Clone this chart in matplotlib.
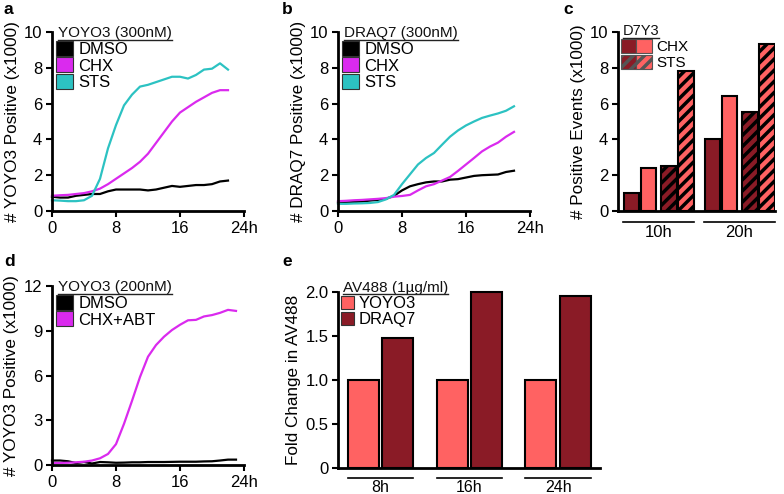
import matplotlib
matplotlib.use("Agg")
import matplotlib.pyplot as plt
from matplotlib.patches import Patch
from matplotlib.legend_handler import HandlerTuple
from matplotlib.lines import Line2D

plt.rcParams['font.family'] = ['Liberation Sans', 'DejaVu Sans']
plt.rcParams['hatch.linewidth'] = 2.5

# ---------------- data ----------------
hours_ab = list(range(0, 23))
a_dmso = [0.8, 0.75, 0.75, 0.85, 0.9, 0.95, 0.95, 1.1, 1.2, 1.2, 1.2, 1.2, 1.15, 1.2, 1.3, 1.4, 1.35, 1.4, 1.45, 1.45, 1.5, 1.65, 1.7]
a_chx = [0.85, 0.88, 0.9, 0.95, 1.0, 1.1, 1.25, 1.5, 1.8, 2.1, 2.4, 2.75, 3.2, 3.8, 4.4, 5.0, 5.5, 5.8, 6.1, 6.35, 6.6, 6.75, 6.75]
a_sts = [0.6, 0.58, 0.55, 0.55, 0.6, 0.85, 1.8, 3.5, 4.8, 5.9, 6.5, 6.95, 7.05, 7.2, 7.35, 7.5, 7.5, 7.4, 7.6, 7.9, 7.95, 8.25, 7.9]

b_dmso = [0.47, 0.48, 0.5, 0.53, 0.58, 0.62, 0.68, 0.85, 1.15, 1.38, 1.5, 1.6, 1.65, 1.65, 1.75, 1.78, 1.87, 1.96, 2.0, 2.02, 2.04, 2.18, 2.25]
b_chx = [0.55, 0.57, 0.6, 0.62, 0.65, 0.68, 0.72, 0.8, 0.84, 0.9, 1.15, 1.38, 1.5, 1.7, 1.9, 2.24, 2.6, 2.96, 3.33, 3.6, 3.82, 4.15, 4.42]
b_sts = [0.4, 0.4, 0.42, 0.43, 0.45, 0.5, 0.65, 0.9, 1.5, 2.05, 2.6, 2.96, 3.24, 3.7, 4.15, 4.5, 4.78, 5.0, 5.2, 5.33, 5.45, 5.6, 5.85]

hours_d = list(range(0, 24))
d_dmso = [0.3, 0.3, 0.25, 0.13, 0.2, 0.1, 0.2, 0.18, 0.15, 0.16, 0.18, 0.18, 0.2, 0.2, 0.2, 0.21, 0.22, 0.22, 0.22, 0.24, 0.25, 0.3, 0.36, 0.36]
d_chxabt = [0.13, 0.14, 0.15, 0.18, 0.22, 0.3, 0.45, 0.74, 1.4, 2.76, 4.3, 5.9, 7.26, 8.04, 8.6, 9.05, 9.4, 9.7, 9.73, 9.96, 10.05, 10.2, 10.4, 10.33]

c_groups = ['10h', '20h']
c_d7_chx = [1.0, 4.0]
c_y3_chx = [2.4, 6.4]
c_d7_sts = [2.5, 5.55]
c_y3_sts = [7.8, 9.35]

e_groups = ['8h', '16h', '24h']
e_yoyo3 = [1.0, 1.0, 1.0]
e_draq7 = [1.48, 2.0, 1.95]

time_ticks = [0, 8, 16, 24]
time_labels = ['0', '8', '16', '24h']

# ---------------- style ----------------
C_BLACK = '#000000'
C_MAG = '#DA2AEE'
C_CYAN = '#2CC2C2'
C_LIGHT = '#FF6262'
C_DARK = '#8A1B26'
FS_TICK = 12
FS_LAB = 12.3
FS_LEG = 12

W, H = 784, 494
fig = plt.figure(figsize=(W / 100, H / 100), dpi=100)


def rect(l, t, r, b):
    return [l / W, (H - b) / H, (r - l) / W, (b - t) / H]


def style_axes(ax):
    for s in ('top', 'right'):
        ax.spines[s].set_visible(False)
    for s in ('left', 'bottom'):
        ax.spines[s].set_linewidth(2)
    ax.tick_params(direction='out', length=4, width=1.5, labelsize=FS_TICK, pad=3)


underlines = []


def legend_block(ax, title, handles, labels, tx, ty, fs=FS_LEG, hl=1.05, hh=1.0, hmap=None, tfs=None):
    t = ax.text(tx, ty, title, transform=ax.transAxes, fontsize=(tfs or fs - 1), ha='left', va='bottom', color='#111')
    underlines.append((ax, t))
    leg = ax.legend(handles, labels, loc='upper left', bbox_to_anchor=(tx - 0.01, ty - 0.005),
                    frameon=False, fontsize=fs, handlelength=hl, handleheight=hh,
                    handletextpad=0.3, labelspacing=0.02, borderpad=0, borderaxespad=0,
                    handler_map=hmap)
    return leg


def line_panel(ax, hours, series, colors, ylim, yticks, ylabel, title, labels):
    for vals, c in zip(series, colors):
        ax.plot(hours, vals, color=c, lw=1.6, clip_on=False)
    ax.set_xlim(0, 24)
    ax.set_ylim(*ylim)
    ax.set_xticks(time_ticks)
    ax.set_xticklabels(time_labels)
    ax.set_yticks(yticks)
    ax.set_ylabel(ylabel, fontsize=FS_LAB, labelpad=3)
    style_axes(ax)
    handles = [Patch(facecolor=c, edgecolor='#333333', lw=0.8) for c in colors]
    legend_block(ax, title, handles, labels, 0.03, 0.955)


# panel a
ax_a = fig.add_axes(rect(52, 32, 244, 211))
line_panel(ax_a, hours_ab, [a_dmso, a_chx, a_sts], [C_BLACK, C_MAG, C_CYAN], (0, 10),
           [0, 2, 4, 6, 8, 10], '# YOYO3 Positive (x1000)', 'YOYO3 (300nM)', ['DMSO', 'CHX', 'STS'])

# panel b
ax_b = fig.add_axes(rect(338, 32, 530, 211))
line_panel(ax_b, hours_ab, [b_dmso, b_chx, b_sts], [C_BLACK, C_MAG, C_CYAN], (0, 10),
           [0, 2, 4, 6, 8, 10], '# DRAQ7 Positive (x1000)', 'DRAQ7 (300nM)', ['DMSO', 'CHX', 'STS'])

# panel d
ax_d = fig.add_axes(rect(52, 286, 244, 465))
line_panel(ax_d, hours_d, [d_dmso, d_chxabt], [C_BLACK, C_MAG], (0, 12),
           [0, 3, 6, 9, 12], '# YOYO3 Positive (x1000)', 'YOYO3 (200nM)', ['DMSO', 'CHX+ABT'])

# panel c
ax_c = fig.add_axes(rect(618, 32, 775, 211))
offs = [0.0, 1.0, 2.2, 3.2]
gstep = 4.76
bw = 0.92
c_series = [(c_d7_chx, C_DARK, ''), (c_y3_chx, C_LIGHT, ''), (c_d7_sts, C_DARK, '///'), (c_y3_sts, C_LIGHT, '///')]
for i, (vals, col, hatch) in enumerate(c_series):
    xs = [g * gstep + offs[i] for g in range(len(c_groups))]
    ax_c.bar(xs, vals, width=bw, color=col, edgecolor='black', lw=1.5, hatch=hatch)
ax_c.set_xlim(-0.79, 8.44)
ax_c.set_ylim(0, 10)
ax_c.set_yticks([0, 2, 4, 6, 8, 10])
ax_c.set_xticks([])
ax_c.set_ylabel('# Positive Events (x1000)', fontsize=FS_LAB, labelpad=3)
style_axes(ax_c)
tr_c = ax_c.get_xaxis_transform()
for g, name in enumerate(c_groups):
    x0 = g * gstep - 0.5
    x1 = g * gstep + 3.68
    ax_c.add_line(Line2D([x0, x1], [-0.061, -0.061], transform=tr_c, color='black', lw=1.2, clip_on=False))
    ax_c.text((x0 + x1) / 2, -0.08, name, transform=tr_c, ha='center', va='top', fontsize=FS_TICK)
h_chx = (Patch(facecolor=C_DARK, edgecolor='#555555', lw=0.8), Patch(facecolor=C_LIGHT, edgecolor='#555555', lw=0.8))
h_sts = (Patch(facecolor=C_DARK, edgecolor='#555555', lw=0.8, hatch='///'),
         Patch(facecolor=C_LIGHT, edgecolor='#555555', lw=0.8, hatch='///'))
legend_block(ax_c, 'D7Y3', [h_chx, h_sts], ['CHX', 'STS'], 0.03, 0.965, fs=11, hl=2.0, hh=1.05,
             hmap={tuple: HandlerTuple(ndivide=None, pad=0.0)}, tfs=10.5)

# panel e
ax_e = fig.add_axes(rect(338, 292, 600, 468))
ew = 0.35
xs_y = [g - 0.195 for g in range(len(e_groups))]
xs_d = [g + 0.195 for g in range(len(e_groups))]
ax_e.bar(xs_y, e_yoyo3, width=ew, color=C_LIGHT, edgecolor='black', lw=1.5, clip_on=False)
ax_e.bar(xs_d, e_draq7, width=ew, color=C_DARK, edgecolor='black', lw=1.5, clip_on=False)
ax_e.set_xlim(-0.48, 2.47)
ax_e.set_ylim(0, 2.0)
ax_e.set_yticks([0, 0.5, 1.0, 1.5, 2.0])
ax_e.set_yticklabels(['0', '0.5', '1.0', '1.5', '2.0'])
ax_e.set_xticks([])
ax_e.set_ylabel('Fold Change in AV488', fontsize=FS_LAB, labelpad=3)
style_axes(ax_e)
tr_e = ax_e.get_xaxis_transform()
for g, name in enumerate(e_groups):
    ax_e.add_line(Line2D([g - 0.37, g + 0.37], [-0.057, -0.057], transform=tr_e, color='black', lw=1.2, clip_on=False))
    ax_e.text(g, -0.068, name, transform=tr_e, ha='center', va='top', fontsize=FS_TICK - 0.5)
handles_e = [Patch(facecolor=C_LIGHT, edgecolor='#333333', lw=0.8), Patch(facecolor=C_DARK, edgecolor='#333333', lw=0.8)]
legend_block(ax_e, 'AV488 (1µg/ml)', handles_e, ['YOYO3', 'DRAQ7'], 0.02, 0.985, hl=0.8, hh=0.9)

# panel letters
for letter, (px, py) in zip('abcde', [(4, 10), (282, 10), (563, 10), (4, 261), (282, 261)]):
    fig.text(px / W, 1 - py / H, letter, fontsize=12.5, fontweight='bold', ha='left', va='center')

# underline legend titles
fig.canvas.draw()
renderer = fig.canvas.get_renderer()
for ax, t in underlines:
    bb = t.get_window_extent(renderer)
    y = bb.y0 + 0.5
    fig.add_artist(Line2D([bb.x0 / W, bb.x1 / W], [y / H, y / H], transform=fig.transFigure, color='#222', lw=1.0))

fig.savefig('out.png', dpi=100)
